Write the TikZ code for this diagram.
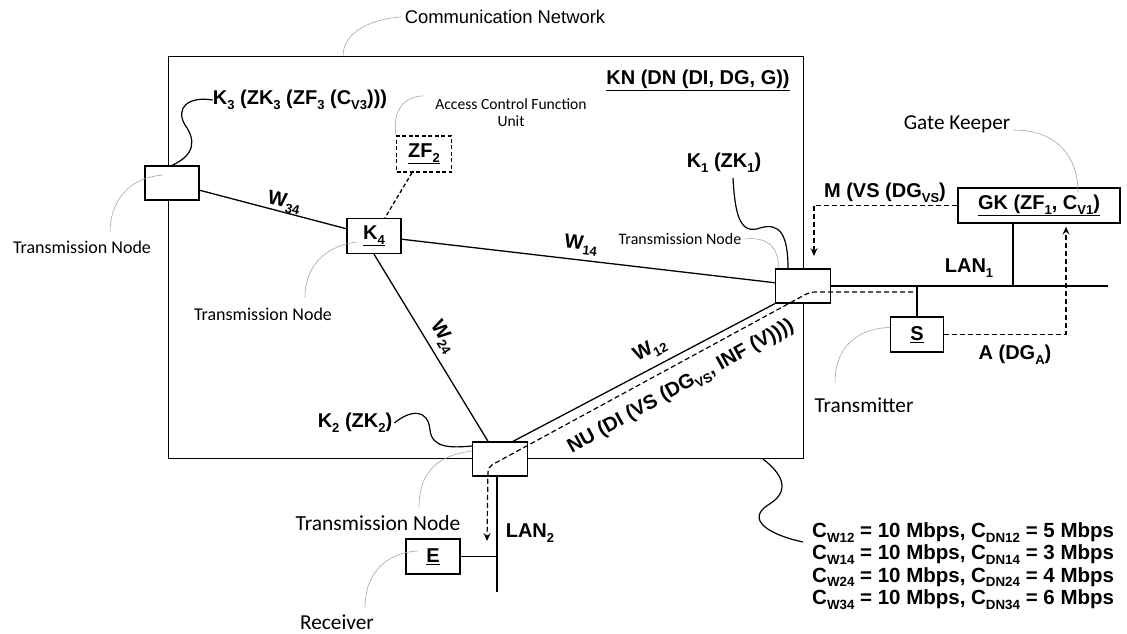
\documentclass[tikz,border=0pt]{standalone}
\usepackage{fontspec}
\usepackage{graphicx}
\setmainfont{Liberation Sans}
\newfontfamily\calfont{Carlito}
\usetikzlibrary{arrows.meta,calc}
\newcommand\sbs[1]{\raisebox{-0.45ex}{\scalebox{0.65}{#1}}}
\begin{document}
\begin{tikzpicture}[x=1pt,y=-1pt,
  nodebox/.style={draw,line width=1.3pt,fill=white,inner sep=0pt,minimum width=54pt,minimum height=34pt,font=\fontsize{20}{24}\selectfont\bfseries},
  lbl/.style={inner sep=0pt,font=\fontsize{20}{24}\selectfont\bfseries},
  anno/.style={inner sep=0pt,font=\calfont\fontsize{#1}{#1}\selectfont},
  wire/.style={line width=1.3pt},
  msg/.style={line width=1.2pt,dash pattern=on 5pt off 3pt},
  arrowend/.style={-{Stealth[length=8pt,width=7pt,inset=3pt]}},
  leader/.style={gray!70,line width=0.6pt},
  hook/.style={line width=1.2pt}
]
\useasboundingbox (0,0) rectangle (1127,634);

% communication network region
\node[draw,line width=1.2pt,minimum width=635pt,minimum height=402pt,inner sep=0pt,anchor=north west] (net) at (168,56) {};

% boxes
\node[nodebox] (K3) at (172,183) {};
\node[nodebox,minimum height=35pt] (K4) at (374,236) {\underline{K\sbs{4}}};
\node[nodebox,minimum width=55pt,minimum height=36pt,dash pattern=on 4pt off 2.5pt] (ZF2) at (424,154) {\underline{ZF\sbs{2}}};
\node[nodebox,minimum width=55pt] (K1) at (803,286) {};
\node[nodebox,minimum width=55pt] (K2) at (500,459) {};
\node[nodebox,minimum width=162pt,minimum height=35pt] (GK) at (1039,205.5) {\underline{GK (ZF\sbs{1}, C\sbs{V1})}};
\node[nodebox,minimum width=53pt,minimum height=35pt] (S) at (917,334.5) {\underline{S}};
\node[nodebox,minimum height=35pt] (E) at (433,556.5) {\underline{E}};

% links
\draw[wire] (K3) -- (K4);
\draw[wire] (K4) -- (K1);
\draw[wire] (K4.south) -- ([xshift=-12pt]K2.north);
\draw[wire] ([xshift=13pt]K2.north) -- (K1.south west);
\draw[wire,dash pattern=on 4pt off 2.5pt] ([xshift=-12pt]ZF2.south) -- ([xshift=11pt]K4.north);

% LANs
\coordinate (L1) at (1108,286);
\coordinate (L2) at (497,592);
\draw[wire] (K1.east) -- (L1);
\draw[wire] (S.north) -- (S.north |- L1);
\draw[wire] ([xshift=-26pt]GK.south) -- ([xshift=-26pt]GK.south |- L1);
\draw[wire] (L2 |- K2.south) -- (L2);
\draw[wire] (E.east) -- (E.east -| L2);

% message paths
\coordinate (d0) at (913,292);
\coordinate (d1) at (810,292);
\coordinate (d2) at (488,467);
\coordinate (d3) at (487,541);
\draw[msg,arrowend,rounded corners=5pt] (d0) -- (d1) -- (d2) -- (d3);
\coordinate (mtip) at (814,256);
\draw[msg,arrowend] (GK.west) -| (mtip);
\draw[msg,arrowend,shorten >=3pt] (S.east) -| ([xshift=27pt]GK.south);

% link labels
\node[lbl,rotate=-12] (w34) at (284,203) {W\sbs{34}};
\node[lbl,rotate=-7] (w14) at (581,245) {W\sbs{14}};
\node[lbl,rotate=-58] (w24) at (443,337) {W\sbs{24}};
\node[lbl,rotate=28] (w12) at (650,350) {W\sbs{12}};
\node[lbl,rotate=29] (nu) at (681,387) {NU (DI (VS (DG\sbs{VS}, INF (V))))};

% other labels
\node[lbl] (k3l) at (300,100) {K\sbs{3} (ZK\sbs{3} (ZF\sbs{3} (C\sbs{V3})))};
\node[lbl] (k1l) at (724,163) {K\sbs{1} (ZK\sbs{1})};
\node[lbl] (k2l) at (355,423) {K\sbs{2} (ZK\sbs{2})};
\node[lbl] (kn) at (698,80) {\underline{KN (DN (DI, DG, G))}};
\node[lbl] (ml) at (885,193) {M (VS (DG\sbs{VS})};
\node[lbl] (lan1) at (969,268) {LAN\sbs{1}};
\node[lbl] (al) at (1015,355) {A (DG\sbs{A})};
\node[lbl] (lan2) at (530,533) {LAN\sbs{2}};
\node[lbl,align=left,anchor=west,font=\fontsize{20.5}{22.3}\selectfont\bfseries] (cap) at (812,566)
  {C\sbs{W12} = 10 Mbps, C\sbs{DN12} = 5 Mbps\\
   C\sbs{W14} = 10 Mbps, C\sbs{DN14} = 3 Mbps\\
   C\sbs{W24} = 10 Mbps, C\sbs{DN24} = 4 Mbps\\
   C\sbs{W34} = 10 Mbps, C\sbs{DN34} = 6 Mbps};

% annotations
\node[inner sep=0pt,font=\fontsize{18.4}{22}\selectfont] (comm) at (505,17) {Communication Network};
\node[anno=15.6,align=center,font=\calfont\fontsize{15.6}{17}\selectfont] (acfu) at (511,113) {Access Control Function\\Unit};
\node[anno=18] (tn3) at (82,247) {Transmission Node};
\node[anno=18] (tn4) at (263,314) {Transmission Node};
\node[anno=16] (tn1) at (680,239) {Transmission Node};
\node[anno=21.5] (tn2) at (378,523) {Transmission Node};
\node[anno=21.3] (rcv) at (337,622) {Receiver};
\node[anno=21.3] (tx) at (864,405) {Transmitter};
\node[anno=21.2] (gkl) at (957,124) {Gate Keeper};

% thin leaders
\draw[leader] ([xshift=-4pt]comm.west) .. controls (365,20) and (343,35) .. ([xshift=175pt]net.north west);
\draw[leader] ([xshift=-12pt,yshift=3pt]acfu.north west) .. controls (400,97) and (393,115) .. (ZF2.north west);
\draw[leader] ([xshift=28pt,yshift=8pt]tn3.north) .. controls (110,205) and (125,178) .. (163,175);
\draw[leader] ([xshift=42pt,yshift=10pt]tn4.north) .. controls (305,262) and (330,245) .. (357,242);
\draw[leader] ([xshift=3pt]tn1.east) .. controls (770,236) and (779,250) .. ([xshift=3.5pt]K1.north west);
\draw[leader] ([xshift=41pt,yshift=8pt]tn2.north) .. controls (419,470) and (440,455) .. (472,451);
\draw[leader] ([xshift=28pt,yshift=7pt]rcv.north) .. controls (365,570) and (390,552) .. (418,551);
\draw[leader] ([xshift=-29pt,yshift=15pt]tx.north) .. controls (835,345) and (860,328) .. ([yshift=7pt]S.west);
\draw[leader] ([xshift=3pt,yshift=-6pt]gkl.east) .. controls (1060,130) and (1078,160) .. (1078,192);

% thick hooks
\draw[hook] (k3l.west) .. controls (188,96) and (175,108) .. (185,125) .. controls (196,140) and (195,155) .. (K3.north);
\draw[hook] ([xshift=9pt,yshift=-5pt]k1l.south) .. controls (735,215) and (740,235) .. (760,228) .. controls (780,222) and (788,235) .. ([xshift=-15pt]K1.north);
\draw[hook] ([xshift=2pt]k2l.east) .. controls (410,410) and (428,408) .. (430,430) .. controls (432,448) and (450,448) .. (472,446);
\draw[hook] ([xshift=-41pt]net.south east) .. controls (790,480) and (785,495) .. (768,505) .. controls (745,520) and (770,535) .. (803,542);
\end{tikzpicture}
\end{document}
